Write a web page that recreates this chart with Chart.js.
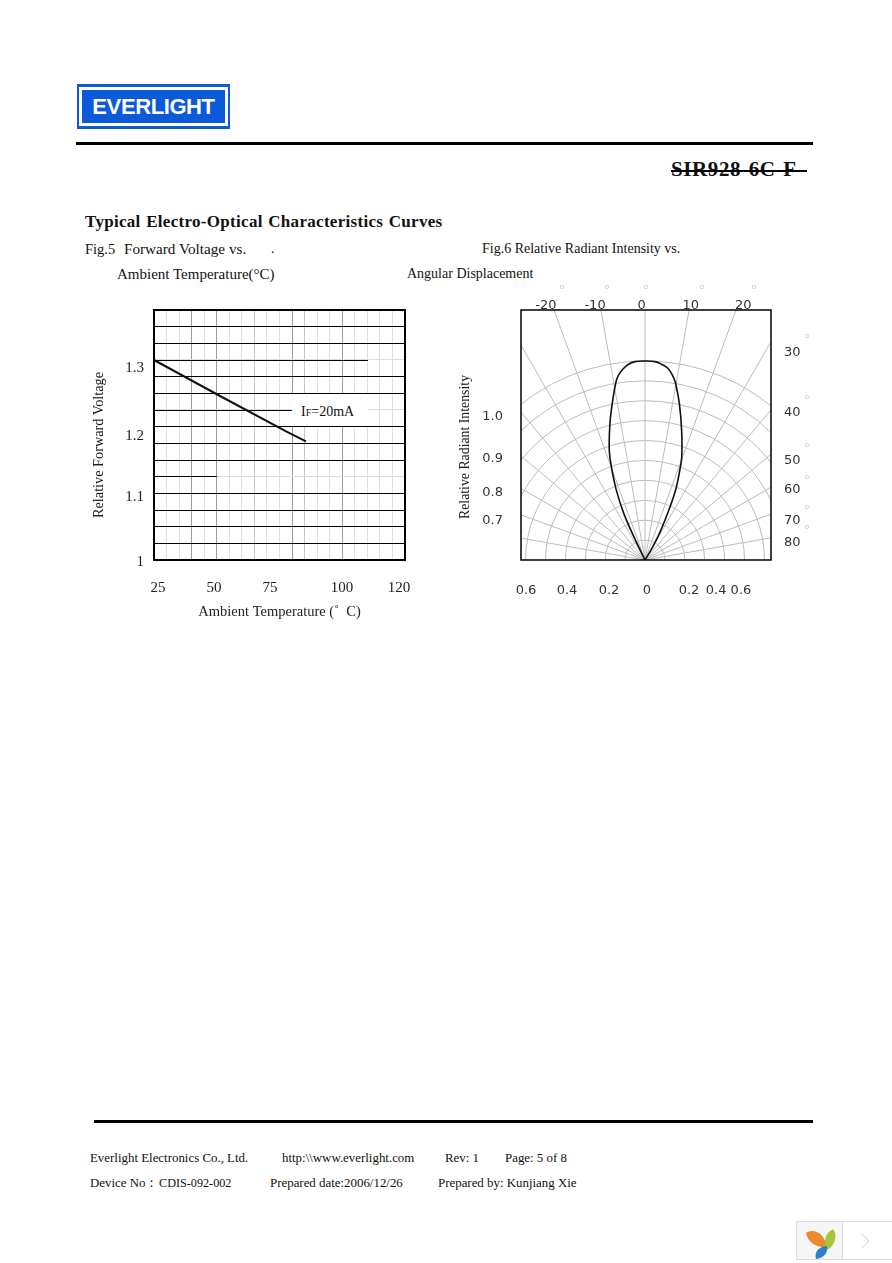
<!DOCTYPE html>
<html>
<head>
<meta charset="utf-8">
<title>SIR928-6C-F</title>
<script src="https://cdn.jsdelivr.net/npm/chart.js@4/dist/chart.umd.min.js"></script>
<style>
html, body { margin: 0; padding: 0; background: #fff; }
#page { position: relative; width: 892px; height: 1263px; overflow: hidden; font-family: "Liberation Serif", serif; color: #111; }
#page span { position: absolute; white-space: pre; line-height: 20px; font-size: 14px; }
#page .foot { font-size: 12.9px; }
#page .deg { font-family: "Liberation Sans", sans-serif; font-size: 7px; color: #bbb; }
.rule { position: absolute; background: #000; }
canvas { position: absolute; }
#logo { position: absolute; left: 77px; top: 84px; width: 153px; height: 45px; background: #0b5ad9; }
#logo div { position: absolute; left: 2px; top: 3px; width: 143px; height: 33px; border: 3px solid #fff; color: #fff; font: bold 22px/33px "Liberation Sans", sans-serif; text-align: center; letter-spacing: -0.4px; }
#ifLabel { background: #fff; left: 292px; top: 394px; width: 67px; height: 32px; line-height: 36px !important; padding-left: 9px; }
#ifLabel small { font-size: 10px; }
</style>
</head>
<body>
<div id="page">
  <div id="logo"><div>EVERLIGHT</div></div>
  <div class="rule" style="left:76px;top:142px;width:737px;height:3px"></div>
  <span style="left:671px;top:159px;font-size:21px;font-weight:bold;letter-spacing:0.6px">SIR928-6C-F</span>
  <div class="rule" style="left:671px;top:170px;width:136px;height:2px"></div>

  <span style="left:85px;top:212px;font-size:17px;font-weight:bold;letter-spacing:0.3px;word-spacing:1px">Typical Electro-Optical Characteristics Curves</span>
  <span style="left:85px;top:239px;font-size:14.5px">Fig.5</span>
  <span style="left:124px;top:239px;font-size:15.2px">Forward Voltage vs.</span>
  <span style="left:271px;top:239px">.</span>
  <span style="left:482px;top:239px">Fig.6 Relative Radiant Intensity vs.</span>
  <span style="left:117px;top:264px;font-size:15px">Ambient Temperature(°C)</span>
  <span style="left:407px;top:264px">Angular Displacement</span>

  <canvas id="voltageChart" width="340" height="330" style="left:84px;top:300px"></canvas>
  <canvas id="polarChart" width="370" height="340" style="left:450px;top:270px"></canvas>

  <span id="ifLabel">I<small>F</small>=20mA</span>
  <span style="left:98px;top:445px;font-size:15.5px;transform:translate(-50%,-50%) rotate(-90deg) scaleX(0.92)">Relative Forward Voltage</span>
  <span style="left:464px;top:447px;font-size:15.5px;transform:translate(-50%,-50%) rotate(-90deg) scaleX(0.89)">Relative Radiant Intensity</span>

  <span class="deg" style="left:560px;top:277px">o</span>
  <span class="deg" style="left:605px;top:277px">o</span>
  <span class="deg" style="left:644px;top:277px">o</span>
  <span class="deg" style="left:700px;top:277px">o</span>
  <span class="deg" style="left:752px;top:277px">o</span>
  <span class="deg" style="left:805px;top:326px">o</span>
  <span class="deg" style="left:805px;top:387px">o</span>
  <span class="deg" style="left:805px;top:435px">o</span>
  <span class="deg" style="left:805px;top:467px">o</span>
  <span class="deg" style="left:805px;top:497px">o</span>
  <span class="deg" style="left:805px;top:517px">o</span>

  <div class="rule" style="left:94px;top:1120px;width:719px;height:3px"></div>
  <span class="foot" style="left:90px;top:1148px">Everlight Electronics Co., Ltd.</span>
  <span class="foot" style="left:282px;top:1148px">http:\\www.everlight.com</span>
  <span class="foot" style="left:445px;top:1148px">Rev: 1</span>
  <span class="foot" style="left:505px;top:1148px">Page: 5 of 8</span>
  <span class="foot" style="left:90px;top:1173px">Device No：</span>
  <span class="foot" style="left:159px;top:1173px;font-size:12.2px">CDIS-092-002</span>
  <span class="foot" style="left:270px;top:1173px">Prepared date:2006/12/26</span>
  <span class="foot" style="left:438px;top:1173px">Prepared by: Kunjiang Xie</span>

  <svg style="position:absolute;left:796px;top:1221px" width="96" height="39">
    <rect x="0.5" y="0.5" width="46" height="38" fill="#f6f6f6" stroke="#ddd"/>
    <rect x="46.5" y="0.5" width="50" height="38" fill="#fff" stroke="#ddd"/>
    <path d="M10 12 C18 7 28 12 31 26 C21 27 12 22 10 12 Z" fill="#ec8a2e"/>
    <path d="M37 8 C42 14 39 25 31 29 C27 20 29 12 37 8 Z" fill="#a5c63b"/>
    <path d="M20 38 C18 30 23 26 31 25 C32 32 28 37 20 38 Z" fill="#2b7fc9"/>
    <path d="M66 13 L73 20 L66 27" fill="none" stroke="#ccc"/>
  </svg>
</div>

<script>
// * Fig.5 data
const tempValues = [25, 50, 75, 82.5]
const voltageValues = [1.3, 1.246, 1.193, 1.178]

const tempGrid = [25, 29.75, 34.5, 39.25, 44, 48.75, 53.5, 58.25, 63, 67.75, 72.5, 77.25, 82, 86.75, 91.5, 96.25, 101, 105.75, 110.5, 115.25, 120]
const tempGridDark = [39.25, 48.75, 77.25, 96.25]
const tempGridMid = [63, 82]
const voltageGrid = [1, 1.025, 1.05, 1.075, 1.1, 1.125, 1.15, 1.175, 1.2, 1.225, 1.25, 1.275, 1.3, 1.325, 1.35, 1.375]
const voltageGridFaint = [1.125, 1.225, 1.3]

// the three faint grid rows stay black only up to these temperatures
// (y nudged so the 1px line lands on a whole pixel like the grid does)
const blackRowY = [1.29925, 1.22425, 1.12525]
const blackRowEnd = [106, 77.2, 48.8]

// printed tick labels do not sit on the grid, so they get their own positions
const tempTickAt = [26.5, 47.7, 68.9, 96.2, 117.7]
const tempTickLabels = ['25', '50', '75', '100', '120']
const voltageTickAt = [1.288, 1.186, 1.0945, 0.997]
const voltageTickLabels = ['1.3', '1.2', '1.1', '1']

// * Fig.6 data, left side of the lobe to the right side
const lobeAngles = [-24, -25.5, -24.4, -22.2, -20.05, -18.05, -14.4, -11.45, -9.3, -8.2, -6.5, -4.9, -2.9, 0, 2.9, 4.9, 6.95, 8.8, 9.88, 12.4, 15.8, 19.65, 21, 23.5, 25.4, 28.3, 30.9, 32]
const lobeIntensity = [0, 0.136, 0.264, 0.386, 0.488, 0.579, 0.708, 0.818, 0.905, 0.937, 0.967, 0.986, 0.998, 1, 0.998, 0.986, 0.968, 0.93, 0.899, 0.804, 0.676, 0.549, 0.491, 0.39, 0.285, 0.159, 0.065, 0]

const gridRadii = [0.1, 0.2, 0.3, 0.4, 0.5, 0.6, 0.7, 0.8, 0.9, 1]
const gridAngles = [-80, -70, -60, -50, -40, -30, -20, -10, 0, 10, 20, 30, 40, 50, 60, 70, 80]

const bottomTickAt = [-0.598, -0.392, -0.181, 0.01, 0.221, 0.357, 0.482]
const bottomTickLabels = ['0.6', '0.4', '0.2', '0', '0.2', '0.4', '0.6']
const topTickAt = [-0.498, -0.251, -0.017, 0.23, 0.494]
const topTickLabels = ['-20', '-10', '0', '10', '20']
const leftTickAt = [0.718, 0.508, 0.341, 0.199]
const leftTickLabels = ['1.0', '0.9', '0.8', '0.7']
const rightTickAt = [1.043, 0.738, 0.5, 0.354, 0.198, 0.089]
const rightTickLabels = ['30', '40', '50', '60', '70', '80']

const SERIF = '"Liberation Serif", serif'
const SANS = '"DejaVu Sans", sans-serif'

// * Helpers
const pinTicks = (values) => (scale) => { scale.ticks = values.map(v => ({ value: v })) }
const noPadding = (scale) => { scale.paddingLeft = scale.paddingRight = scale.paddingTop = scale.paddingBottom = 0 }
const fixHeight = (h) => (scale) => { scale.height = h; noPadding(scale) }
const fixWidth = (w) => (scale) => { scale.width = w; noPadding(scale) }

// * Frame round the plot area
const framePlugin = {
    id: 'frame',
    afterDatasetsDraw(chart, args, opts) {
        const { ctx, chartArea: a } = chart
        ctx.save()
        ctx.strokeStyle = '#000'
        ctx.lineWidth = opts.width
        ctx.strokeRect(a.left, a.top, a.right - a.left, a.bottom - a.top)
        ctx.restore()
    }
}

// * Polar grid on the cartesian scales
const polarGridPlugin = {
    id: 'polarGrid',
    beforeDatasetsDraw(chart) {
        const { ctx, chartArea: a, scales } = chart
        const ox = scales.x.getPixelForValue(0)
        const oy = scales.y.getPixelForValue(0)
        ctx.save()
        ctx.beginPath()
        ctx.rect(a.left, a.top, a.right - a.left, a.bottom - a.top)
        ctx.clip()
        ctx.lineWidth = 1
        ctx.strokeStyle = '#bcbcbc'
        gridRadii.forEach(r => {
            const rPx = scales.x.getPixelForValue(r) - ox
            ctx.beginPath()
            ctx.arc(ox, oy, rPx, Math.PI, 2 * Math.PI)
            ctx.stroke()
        })
        gridAngles.forEach(deg => {
            const t = deg * Math.PI / 180
            ctx.beginPath()
            ctx.moveTo(ox, oy)
            ctx.lineTo(ox + 500 * Math.sin(t), oy - 500 * Math.cos(t))
            ctx.stroke()
        })
        ctx.restore()
    }
}

// * Fig.5
new Chart(document.getElementById('voltageChart'), {
    type: 'scatter',
    plugins: [framePlugin],
    data: {
        datasets: [
            ...blackRowY.map((y, i) => ({
                data: [{ x: 25, y: y }, { x: blackRowEnd[i], y: y }],
                showLine: true, borderColor: '#000', borderWidth: 1, pointRadius: 0
            })),
            {
                label: 'IF=20mA',
                data: tempValues.map((t, i) => ({ x: t, y: voltageValues[i] })),
                showLine: true, borderColor: '#111', borderWidth: 2, pointRadius: 0
            }
        ]
    },
    options: {
        responsive: false,
        animation: false,
        layout: { padding: { top: 10, right: 19 } },
        plugins: { legend: { display: false }, tooltip: { enabled: false }, frame: { width: 2 } },
        scales: {
            x: {
                type: 'linear', min: 25, max: 120, weight: 0,
                afterBuildTicks: pinTicks(tempGrid),
                afterFit: fixHeight(0),
                border: { display: false },
                ticks: { display: false },
                grid: {
                    drawTicks: false,
                    color: (c) => {
                        const v = c.tick && c.tick.value
                        if (tempGridDark.includes(v)) return '#9a9a9a'
                        if (tempGridMid.includes(v)) return '#c4c4c4'
                        return '#dedede'
                    }
                }
            },
            xLabels: {
                type: 'linear', position: 'bottom', min: 25, max: 120, weight: 1,
                afterBuildTicks: pinTicks(tempTickAt),
                afterFit: fixHeight(70),
                border: { display: false },
                grid: { display: false, drawTicks: false },
                ticks: {
                    autoSkip: false, maxRotation: 0, padding: 19, color: '#222',
                    font: { family: SERIF, size: 15 },
                    callback: (v, i) => tempTickLabels[i]
                },
                title: {
                    display: true, text: 'Ambient Temperature (˚  C)', color: '#222',
                    font: { family: SERIF, size: 14.5 }, padding: { top: 0, bottom: 9 }
                }
            },
            y: {
                type: 'linear', min: 1, max: 1.375, weight: 0,
                afterBuildTicks: pinTicks(voltageGrid),
                afterFit: fixWidth(0),
                border: { display: false },
                ticks: { display: false },
                grid: {
                    drawTicks: false,
                    color: (c) => voltageGridFaint.includes(c.tick && c.tick.value) ? '#dcdcdc' : '#000'
                }
            },
            yLabels: {
                type: 'linear', position: 'left', min: 1, max: 1.375, weight: 1,
                afterBuildTicks: pinTicks(voltageTickAt),
                afterFit: fixWidth(70),
                border: { display: false },
                grid: { display: false, drawTicks: false },
                ticks: {
                    autoSkip: false, padding: 10, color: '#222',
                    font: { family: SERIF, size: 15 },
                    callback: (v, i) => voltageTickLabels[i]
                }
            }
        }
    }
})

// * Fig.6
const tickFont = { family: SANS, size: 13 }
new Chart(document.getElementById('polarChart'), {
    type: 'scatter',
    plugins: [polarGridPlugin, framePlugin],
    data: {
        datasets: [{
            label: 'Relative Radiant Intensity',
            data: lobeAngles.map((deg, i) => ({
                x: lobeIntensity[i] * Math.sin(deg * Math.PI / 180),
                y: lobeIntensity[i] * Math.cos(deg * Math.PI / 180)
            })),
            showLine: true, borderColor: '#111', borderWidth: 1.6, pointRadius: 0, tension: 0.4
        }]
    },
    options: {
        responsive: false,
        animation: false,
        plugins: { legend: { display: false }, tooltip: { enabled: false }, frame: { width: 1.5 } },
        scales: {
            x: {
                type: 'linear', position: 'bottom', min: -0.623, max: 0.633,
                afterBuildTicks: pinTicks(bottomTickAt),
                afterFit: fixHeight(50),
                border: { display: false },
                grid: { display: false, drawTicks: false },
                ticks: { autoSkip: false, maxRotation: 0, padding: 23, color: '#333', font: tickFont, callback: (v, i) => bottomTickLabels[i] }
            },
            xTop: {
                type: 'linear', position: 'top', min: -0.623, max: 0.633,
                afterBuildTicks: pinTicks(topTickAt),
                afterFit: fixHeight(40),
                border: { display: false },
                grid: { display: false, drawTicks: false },
                ticks: { autoSkip: false, maxRotation: 0, padding: -3, color: '#333', font: tickFont, callback: (v, i) => topTickLabels[i] }
            },
            y: {
                type: 'linear', position: 'left', min: 0, max: 1.256,
                afterBuildTicks: pinTicks(leftTickAt),
                afterFit: fixWidth(71),
                border: { display: false },
                grid: { display: false, drawTicks: false },
                ticks: { autoSkip: false, padding: 18, color: '#333', font: tickFont, callback: (v, i) => leftTickLabels[i] }
            },
            yRight: {
                type: 'linear', position: 'right', min: 0, max: 1.256,
                afterBuildTicks: pinTicks(rightTickAt),
                afterFit: fixWidth(49),
                border: { display: false },
                grid: { display: false, drawTicks: false },
                ticks: { autoSkip: false, padding: 13, color: '#333', font: tickFont, callback: (v, i) => rightTickLabels[i] }
            }
        }
    }
})
</script>
</body>
</html>
